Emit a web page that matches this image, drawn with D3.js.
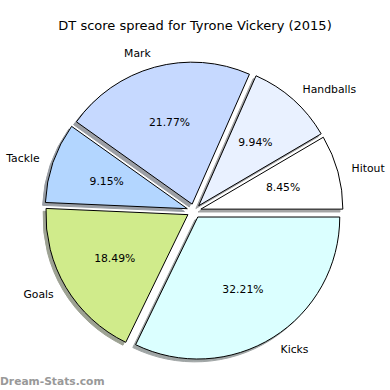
<!DOCTYPE html>
<meta charset="utf-8">
<script src="https://d3js.org/d3.v7.min.js"></script>
<style>
  body { margin: 0; background: #fff; }
  text { font-family: "DejaVu Sans", sans-serif; fill: #000; }
</style>
<body>
<div id="chart"></div>
<script>
// slice data, counter-clockwise from 3 o'clock
var labels = ["Hitout", "Handballs", "Mark", "Tackle", "Goals", "Kicks"];
var values = [8.45, 9.94, 21.77, 9.15, 18.49, 32.21];
var colours = ["#ffffff", "#e9f1ff", "#c6d9ff", "#b3d6ff", "#d0eb8b", "#dbffff"];

var width = 390, height = 390;
var cx = 194, cy = 211, r = 142;
var explode = 0.05 * r;

var svg = d3.select("#chart").append("svg")
    .attr("width", width)
    .attr("height", height);

svg.append("text")
    .attr("x", 195)
    .attr("y", 30)
    .attr("text-anchor", "middle")
    .style("font-size", "13px")
    .text("DT score spread for Tyrone Vickery (2015)");

var pie = d3.pie()
    .sort(null)
    .startAngle(Math.PI / 2)
    .endAngle(Math.PI / 2 - 2 * Math.PI);

var arcs = pie(values).map(function (d, i) {
    d.label = labels[i];
    d.colour = colours[i];
    var mid = (d.startAngle + d.endAngle) / 2;
    d.dx = Math.sin(mid);
    d.dy = -Math.cos(mid);
    return d;
});

var arc = d3.arc().innerRadius(0).outerRadius(r);

// darker copy of a colour, like matplotlib's shadow
function shade(c) {
    var col = d3.rgb(c);
    return d3.rgb(col.r * 0.3, col.g * 0.3, col.b * 0.3).toString();
}

var g = svg.append("g").attr("transform", "translate(" + cx + "," + cy + ")");

// shadows first
g.selectAll("path.shadow")
    .data(arcs)
    .join("path")
    .attr("class", "shadow")
    .attr("d", arc)
    .attr("transform", d => "translate(" + (d.dx * explode - 0.02 * r) + "," + (d.dy * explode + 0.02 * r) + ")")
    .attr("fill", d => shade(d.colour))
    .attr("stroke", d => shade(d.colour))
    .attr("opacity", 0.5);

g.selectAll("path.wedge")
    .data(arcs)
    .join("path")
    .attr("class", "wedge")
    .attr("d", arc)
    .attr("transform", d => "translate(" + d.dx * explode + "," + d.dy * explode + ")")
    .attr("fill", d => d.colour)
    .attr("stroke", "#000")
    .attr("stroke-width", 1)
    .attr("stroke-linejoin", "round");

// outer labels
g.selectAll("text.label")
    .data(arcs)
    .join("text")
    .attr("class", "label")
    .attr("x", d => d.dx * (explode + 1.1 * r))
    .attr("y", d => d.dy * (explode + 1.1 * r))
    .attr("dy", "0.35em")
    .attr("text-anchor", d => d.dx > 0 ? "start" : "end")
    .style("font-size", "10.8px")
    .text(d => d.label);

// percentages
g.selectAll("text.pct")
    .data(arcs)
    .join("text")
    .attr("class", "pct")
    .attr("x", d => d.dx * (explode + 0.6 * r))
    .attr("y", d => d.dy * (explode + 0.6 * r))
    .attr("dy", "0.35em")
    .attr("text-anchor", "middle")
    .style("font-size", "10.8px")
    .text(d => d.value.toFixed(2) + "%");

svg.append("text")
    .attr("x", 0)
    .attr("y", 385)
    .style("font-size", "10.7px")
    .style("fill", "#999")
    .style("font-weight", "bold")
    .text("Dream-Stats.com");
</script>
</body>
